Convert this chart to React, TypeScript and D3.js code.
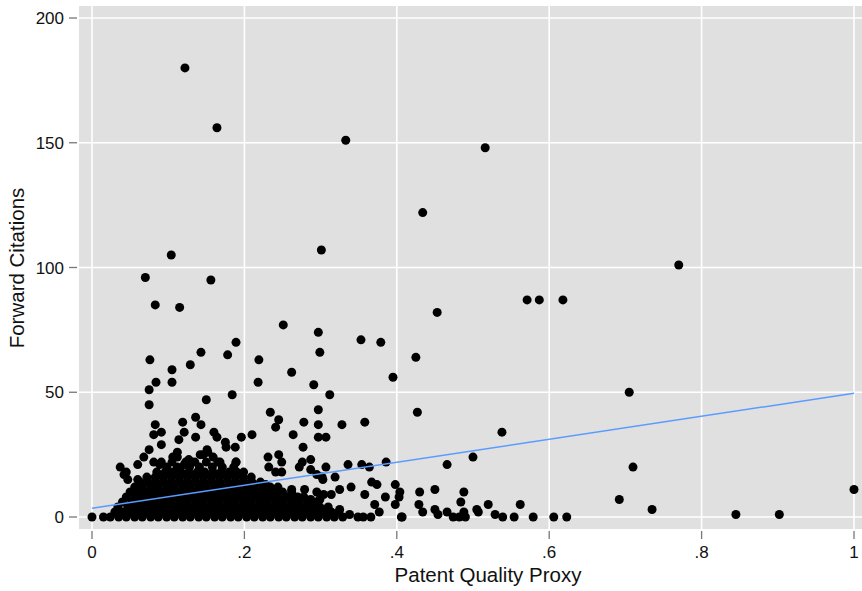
import React from "react";
import * as d3 from "d3";

// Axis ticks
const xTicks = [0, 0.2, 0.4, 0.6, 0.8, 1];
const xTickLabels = ["0", ".2", ".4", ".6", ".8", "1"];
const yTicks = [0, 50, 100, 150, 200];
const yTickLabels = ["0", "50", "100", "150", "200"];

// Linear fit
const fitX = [0, 1];
const fitY = [3.5, 49.6];

// Dense cluster, one array of x values per citation count
const clusterRowY = [0, 2, 4, 6, 8, 10, 12, 14, 16, 18, 20, 22];
const clusterRowX = [
  [0.015, 0.024, 0.035, 0.045, 0.056, 0.066, 0.077, 0.087, 0.098, 0.108, 0.119, 0.129, 0.14, 0.15, 0.161, 0.171, 0.182, 0.192, 0.203, 0.213, 0.224, 0.234, 0.245, 0.255, 0.266, 0.276, 0.287, 0.297, 0.308, 0.318, 0.329],
  [0.03, 0.041, 0.051, 0.062, 0.072, 0.083, 0.093, 0.104, 0.114, 0.125, 0.135, 0.146, 0.156, 0.167, 0.177, 0.188, 0.198, 0.209, 0.219, 0.23, 0.24, 0.251, 0.261, 0.272, 0.282, 0.293, 0.303, 0.314, 0.324],
  [0.034, 0.047, 0.058, 0.068, 0.079, 0.089, 0.1, 0.11, 0.121, 0.131, 0.142, 0.152, 0.163, 0.173, 0.184, 0.194, 0.205, 0.215, 0.226, 0.236, 0.247, 0.257, 0.268, 0.278, 0.289, 0.299, 0.31],
  [0.04, 0.052, 0.062, 0.073, 0.083, 0.094, 0.104, 0.115, 0.125, 0.136, 0.146, 0.157, 0.167, 0.178, 0.188, 0.199, 0.209, 0.22, 0.23, 0.241, 0.251, 0.262, 0.272, 0.283, 0.295],
  [0.045, 0.056, 0.067, 0.077, 0.088, 0.098, 0.109, 0.119, 0.13, 0.14, 0.151, 0.161, 0.172, 0.182, 0.193, 0.203, 0.214, 0.224, 0.235, 0.245, 0.256, 0.266, 0.278],
  [0.05, 0.061, 0.071, 0.082, 0.092, 0.103, 0.113, 0.124, 0.134, 0.145, 0.155, 0.166, 0.176, 0.187, 0.197, 0.208, 0.218, 0.229, 0.239, 0.25, 0.262],
  [0.056, 0.066, 0.077, 0.087, 0.098, 0.108, 0.119, 0.129, 0.14, 0.15, 0.161, 0.171, 0.182, 0.192, 0.203, 0.213, 0.224, 0.234, 0.244],
  [0.063, 0.074, 0.084, 0.095, 0.105, 0.116, 0.126, 0.137, 0.147, 0.158, 0.168, 0.179, 0.189, 0.2, 0.21, 0.221],
  [0.072, 0.083, 0.093, 0.104, 0.114, 0.125, 0.135, 0.146, 0.156, 0.167, 0.177, 0.188, 0.198, 0.209],
  [0.085, 0.096, 0.106, 0.117, 0.127, 0.138, 0.148, 0.159, 0.169, 0.18, 0.19, 0.199],
  [0.098, 0.112, 0.128, 0.141, 0.158, 0.171, 0.186],
  [0.105, 0.123, 0.15, 0.168, 0.189],
];

// Individual patents outside the dense cluster: [quality proxy, forward citations]
const sparsePoints: [number, number][] = [
  [0, 0], [0.349, 0], [0.356, 0], [0.366, 0], [0.407, 0], [0.474, 0], [0.482, 0], [0.49, 0],
  [0.539, 0], [0.554, 0], [0.579, 0], [0.606, 0], [0.623, 0],
  [0.122, 180], [0.164, 156], [0.333, 151], [0.516, 148], [0.434, 122], [0.301, 107],
  [0.104, 105], [0.77, 101], [0.07, 96], [0.156, 95], [0.083, 85], [0.115, 84],
  [0.571, 87], [0.587, 87], [0.618, 87], [0.453, 82], [0.251, 77], [0.297, 74],
  [0.189, 70], [0.353, 71], [0.379, 70], [0.143, 66], [0.299, 66], [0.178, 65],
  [0.425, 64], [0.076, 63], [0.219, 63], [0.129, 61], [0.105, 59], [0.262, 58],
  [0.395, 56], [0.084, 54], [0.105, 54], [0.218, 54], [0.291, 53], [0.075, 51],
  [0.705, 50], [0.184, 49], [0.312, 49], [0.15, 47], [0.075, 45], [0.234, 42],
  [0.297, 43], [0.427, 42],
  [0.083, 37], [0.119, 38], [0.136, 40], [0.143, 37], [0.081, 33], [0.091, 34],
  [0.091, 29], [0.121, 34], [0.114, 31], [0.136, 32], [0.16, 34], [0.164, 32],
  [0.175, 30], [0.176, 28], [0.188, 28], [0.196, 32], [0.21, 33], [0.241, 36],
  [0.245, 39], [0.278, 38], [0.297, 37], [0.328, 37], [0.358, 38], [0.264, 33],
  [0.297, 32], [0.307, 32], [0.277, 28], [0.075, 27], [0.112, 26], [0.037, 20],
  [0.045, 18], [0.06, 21], [0.068, 24], [0.081, 22], [0.089, 21], [0.106, 24],
  [0.121, 21], [0.131, 22], [0.142, 25], [0.152, 26], [0.159, 24], [0.165, 22],
  [0.189, 22], [0.231, 24], [0.245, 25], [0.232, 20], [0.249, 22], [0.241, 18],
  [0.249, 18], [0.272, 20], [0.276, 22], [0.287, 23], [0.287, 19], [0.307, 20],
  [0.295, 17], [0.302, 16], [0.319, 16], [0.336, 21], [0.354, 21], [0.364, 20],
  [0.386, 22], [0.466, 21], [0.5, 24], [0.538, 34], [0.303, 15], [0.091, 22],
  [0.112, 24], [0.127, 23], [0.135, 22], [0.146, 25], [0.151, 27], [0.042, 17],
  [0.047, 15], [0.06, 15], [0.228, 13], [0.262, 11], [0.27, 8], [0.279, 11],
  [0.287, 7], [0.295, 10], [0.299, 7], [0.304, 9],
  [0.367, 14], [0.374, 13], [0.398, 13], [0.404, 10], [0.358, 9], [0.34, 12],
  [0.325, 11], [0.314, 9], [0.43, 10], [0.45, 11], [0.488, 10], [0.429, 5],
  [0.403, 8], [0.385, 8], [0.371, 5], [0.398, 5], [0.377, 2], [0.406, 0],
  [0.434, 2], [0.45, 3], [0.454, 1], [0.466, 2], [0.484, 6], [0.488, 2],
  [0.505, 3], [0.507, 2], [0.52, 5], [0.529, 1], [0.562, 5], [0.325, 3],
  [0.338, 1], [0.692, 7], [0.71, 20], [0.735, 3], [0.845, 1], [0.902, 1], [1.0, 11],
];

const W = 862;
const H = 591;
const panel = { left: 79, right: 862, top: 6, bottom: 529 };
const FONT = "Helvetica, 'Liberation Sans', Arial, sans-serif";

export default function App() {
  const x = d3.scaleLinear().domain([0, 1]).range([92, 854]);
  const y = d3.scaleLinear().domain([0, 200]).range([517, 18]);

  const points: [number, number][] = [];
  clusterRowY.forEach((cy, i) => clusterRowX[i].forEach((cx) => points.push([cx, cy])));
  sparsePoints.forEach((p) => points.push(p));

  const fitLine = d3
    .line<number>()
    .x((d) => x(d))
    .y((_, i) => y(fitY[i]));

  return (
    <svg
      width={W}
      height={H}
      style={{ position: "absolute", left: 0, top: 0, background: "#ffffff" }}
      fontFamily={FONT}
    >
      <defs>
        <clipPath id="panelClip">
          <rect x={panel.left} y={panel.top} width={panel.right - panel.left} height={panel.bottom - panel.top} />
        </clipPath>
      </defs>
      <rect x={panel.left} y={panel.top} width={panel.right - panel.left} height={panel.bottom - panel.top} fill="#e0e0e0" />
      {xTicks.map((t) => (
        <line key={"gx" + t} x1={x(t)} x2={x(t)} y1={panel.top} y2={panel.bottom} stroke="#ffffff" strokeWidth={1.6} />
      ))}
      {yTicks.map((t) => (
        <line key={"gy" + t} x1={panel.left} x2={panel.right} y1={y(t)} y2={y(t)} stroke="#ffffff" strokeWidth={1.6} />
      ))}
      <g clipPath="url(#panelClip)">
        {points.map((p, i) => (
          <circle key={i} cx={x(p[0])} cy={y(p[1])} r={4.5} fill="#000000" />
        ))}
        <path d={fitLine(fitX) || ""} fill="none" stroke="#5b9bff" strokeWidth={1.5} />
      </g>
      {yTicks.map((t, i) => (
        <g key={"ty" + t}>
          <line x1={69} x2={77} y1={y(t)} y2={y(t)} stroke="#777777" strokeWidth={1.3} />
          <text x={64} y={y(t)} dy="0.36em" textAnchor="end" fontSize={17} fill="#111">
            {yTickLabels[i]}
          </text>
        </g>
      ))}
      {xTicks.map((t, i) => (
        <g key={"tx" + t}>
          <line x1={x(t)} x2={x(t)} y1={531} y2={539} stroke="#777777" strokeWidth={1.3} />
          <text x={x(t)} y={557.5} textAnchor="middle" fontSize={17} fill="#111">
            {xTickLabels[i]}
          </text>
        </g>
      ))}
      <text x={488} y={582} textAnchor="middle" fontSize={20.5} fill="#111">
        Patent Quality Proxy
      </text>
      <text transform="translate(24,268) rotate(-90)" textAnchor="middle" fontSize={20.5} fill="#111">
        Forward Citations
      </text>
    </svg>
  );
}
